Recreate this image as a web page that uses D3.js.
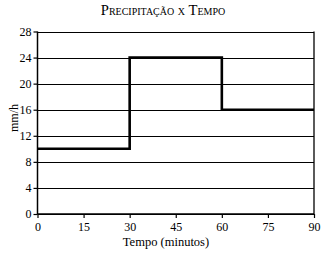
<!DOCTYPE html>
<html>
<head>
<meta charset="utf-8">
<script src="https://cdn.jsdelivr.net/npm/d3@7"></script>
<style>
  body { margin: 0; background: #fff; }
  text { font-family: "Liberation Serif", "Times New Roman", serif; fill: #000; }
</style>
</head>
<body>
<script>
// chart size and margins
var w = 333;
var h = 258;
var margin = { top: 31.5, right: 19, bottom: 44, left: 37.5 };

// step intervals (minutes) and rain intensity (mm/h)
var startMin = [0, 30, 60];
var endMin = [30, 60, 90];
var rate = [10, 24, 16];
var xTicks = [0, 15, 30, 45, 60, 75, 90];
var yTicks = [0, 4, 8, 12, 16, 20, 24, 28];

var svg = d3.select("body")
  .append("svg")
  .attr("width", w)
  .attr("height", h);

var xScale = d3.scaleLinear()
  .domain([0, 90])
  .range([margin.left, w - margin.right]);

var yScale = d3.scaleLinear()
  .domain([0, 28])
  .range([h - margin.bottom, margin.top]);

// horizontal grid
svg.selectAll("line.grid")
  .data(yTicks)
  .enter()
  .append("line")
  .attr("class", "grid")
  .attr("x1", xScale(0))
  .attr("x2", xScale(90))
  .attr("y1", function(d) { return Math.round(yScale(d)) + 0.5; })
  .attr("y2", function(d) { return Math.round(yScale(d)) + 0.5; })
  .attr("stroke", "#000")
  .attr("stroke-width", 1);

// right border
svg.append("line")
  .attr("x1", xScale(90))
  .attr("x2", xScale(90))
  .attr("y1", yScale(28))
  .attr("y2", yScale(0))
  .attr("stroke", "#000")
  .attr("stroke-width", 1.3);

// axes
var xAxis = d3.axisBottom(xScale)
  .tickValues(xTicks)
  .tickSize(4)
  .tickPadding(4);

var yAxis = d3.axisLeft(yScale)
  .tickValues(yTicks)
  .tickSize(4)
  .tickPadding(2);

var gx = svg.append("g")
  .attr("transform", "translate(0," + yScale(0) + ")")
  .call(xAxis);

var gy = svg.append("g")
  .attr("transform", "translate(" + xScale(0) + ",0)")
  .call(yAxis);

[gx, gy].forEach(function(g) {
  g.select(".domain").remove();
  g.selectAll("line").attr("stroke", "#000").attr("stroke-width", 1.2);
  g.selectAll("text")
    .attr("font-family", "'Liberation Serif', serif")
    .attr("font-size", "12px")
    .attr("fill", "#000");
});

svg.append("line")
  .attr("x1", xScale(0)).attr("x2", xScale(90))
  .attr("y1", yScale(0)).attr("y2", yScale(0))
  .attr("stroke", "#000").attr("stroke-width", 1.5);

svg.append("line")
  .attr("x1", xScale(0)).attr("x2", xScale(0))
  .attr("y1", yScale(0)).attr("y2", yScale(28))
  .attr("stroke", "#000").attr("stroke-width", 1.5);

// step line
var pts = [];
rate.forEach(function(r, i) {
  pts.push([startMin[i], r]);
  pts.push([endMin[i], r]);
});

var line = d3.line()
  .x(function(d) { return xScale(d[0]); })
  .y(function(d) { return yScale(d[1]); });

svg.append("path")
  .datum(pts)
  .attr("d", line)
  .attr("fill", "none")
  .attr("stroke", "#000")
  .attr("stroke-width", 2.6);

// title
svg.append("text")
  .attr("x", 163)
  .attr("y", 15)
  .attr("text-anchor", "middle")
  .attr("font-size", "14.6px")
  .style("font-variant", "small-caps")
  .text("Precipitação x Tempo");

// axis labels
svg.append("text")
  .attr("x", 166)
  .attr("y", 246)
  .attr("text-anchor", "middle")
  .attr("font-size", "12.5px")
  .text("Tempo (minutos)");

svg.append("text")
  .attr("transform", "translate(18,118) rotate(-90)")
  .attr("text-anchor", "middle")
  .attr("font-size", "12px")
  .text("mm/h");
</script>
</body>
</html>
